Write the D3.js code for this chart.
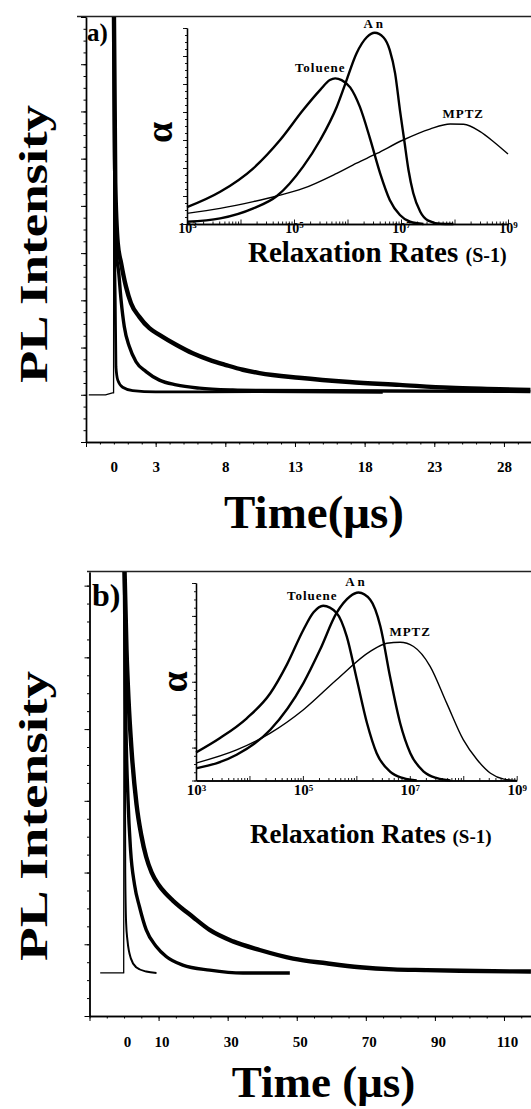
<!DOCTYPE html>
<html>
<head>
<meta charset="utf-8">
<script src="https://cdn.jsdelivr.net/npm/d3@7"></script>
<style>
  html, body { margin: 0; padding: 0; background: #fff; }
  svg text { font-family: "Liberation Serif", "Times New Roman", serif; font-weight: bold; fill: #000; }
</style>
</head>
<body>
<div id="chart"></div>
<script>
// PL decay traces with relaxation-rate distributions (insets), two panels
// main traces: [time (us), intensity (arb.)], insets: [log10 rate (s-1), alpha]

// ---- panel a, main decays
const aPulse = [[-1.8, 1.0], [-0.6, 1.0], [-0.1, 1.04], [-0.02, 1.04], [0, 9.3]];
const aFast = [[0, 9.3], [0.05, 4.55], [0.1, 3.0], [0.15, 1.59], [0.28, 1.31], [0.63, 1.16],
  [1.35, 1.09], [3, 1.06], [10.4, 1.065], [19.3, 1.05]];
const aMid = [[0, 9.3], [0.05, 6.0], [0.16, 4.07], [0.35, 3.58], [0.52, 3.0], [0.75, 2.44],
  [1.11, 2.02], [1.59, 1.70], [2.31, 1.49], [3.27, 1.31], [4.47, 1.21], [6.14, 1.14],
  [8.53, 1.10], [10.45, 1.09], [20, 1.08], [29.9, 1.07]];
const aSlow = [[0, 9.3], [0.1, 5.5], [0.28, 4.21], [0.52, 3.79], [0.87, 3.29], [1.23, 2.94],
  [1.83, 2.65], [2.55, 2.41], [3.27, 2.27], [4.47, 2.06], [5.66, 1.88], [6.86, 1.74],
  [8.05, 1.63], [9.25, 1.53], [10.45, 1.46], [13.3, 1.36], [16.9, 1.27], [20.5, 1.21],
  [24.1, 1.15], [27.7, 1.12], [29.9, 1.10]];

// ---- panel a, inset
const aToluene = [[3.0, 0.60], [3.62, 1.15], [4.24, 1.99], [4.74, 3.00], [5.17, 4.07], [5.49, 4.79],
  [5.67, 5.14], [5.77, 5.20], [5.89, 5.14], [6.05, 4.88], [6.23, 4.19], [6.42, 3.06],
  [6.61, 1.81], [6.79, 0.86], [6.98, 0.32], [7.17, 0.08], [7.42, 0.0]];
const aAn = [[3.0, 0.08], [3.62, 0.20], [4.24, 0.56], [4.68, 1.00], [5.17, 2.05], [5.49, 3.00],
  [5.80, 4.19], [5.95, 4.96], [6.17, 6.10], [6.36, 6.67], [6.51, 6.83], [6.67, 6.67],
  [6.79, 6.21], [6.89, 5.38], [6.98, 4.07], [7.06, 3.00], [7.14, 1.93], [7.23, 1.10],
  [7.36, 0.44], [7.51, 0.12], [7.73, 0.01], [7.98, 0.0]];
const aMPTZ = [[3.0, 0.38], [3.62, 0.56], [4.24, 0.80], [4.68, 1.00], [5.17, 1.27], [5.80, 1.81],
  [6.17, 2.17], [6.55, 2.52], [7.04, 3.00], [7.54, 3.39], [7.92, 3.57], [8.17, 3.56],
  [8.48, 3.30], [8.73, 2.94], [9.0, 2.50]];

// ---- panel b, main decays
const bPulse = [[-6.9, 0.6], [-0.1, 0.6], [0, 6.5]];
const bFast = [[0, 6.5], [0.25, 4.0], [0.35, 2.0], [0.6, 1.3], [1.0, 1.05], [2.0, 0.8],
  [3.5, 0.68], [6.4, 0.62], [9.4, 0.6]];
const bMid = [[0, 6.5], [0.43, 4.41], [1.16, 3.01], [1.88, 2.32], [3.04, 1.83], [4.49, 1.52],
  [6.43, 1.20], [9.33, 0.97], [12.2, 0.83], [17.0, 0.71], [24.8, 0.64], [34.4, 0.60], [48, 0.60]];
const bSlow = [[0, 6.5], [0.72, 5.10], [1.30, 4.41], [2.17, 3.71], [3.62, 2.95], [5.0, 2.52],
  [6.4, 2.22], [8.0, 2.0], [10.0, 1.83], [12.0, 1.71], [14.14, 1.61], [19.94, 1.38],
  [24.78, 1.20], [31.54, 1.04], [39.28, 0.92], [48.93, 0.80], [58.6, 0.735], [68.3, 0.68],
  [77.9, 0.65], [87.6, 0.64], [97.2, 0.63], [117.8, 0.62]];

// ---- panel b, inset
const bToluene = [[3.0, 0.85], [3.45, 1.29], [3.95, 1.89], [4.39, 2.65], [4.70, 3.52], [5.01, 4.58],
  [5.20, 5.11], [5.38, 5.31], [5.63, 5.09], [5.82, 4.38], [6.01, 3.06], [6.20, 1.74],
  [6.38, 0.83], [6.63, 0.27], [6.88, 0.07], [7.13, 0.0]];
const bAn = [[3.0, 0.37], [3.76, 0.78], [4.39, 1.54], [5.01, 2.96], [5.32, 3.97], [5.63, 5.09],
  [5.88, 5.59], [6.04, 5.71], [6.26, 5.49], [6.45, 4.68], [6.63, 3.16], [6.82, 1.74],
  [7.01, 0.83], [7.26, 0.27], [7.51, 0.07], [7.76, 0.0]];
const bMPTZ = [[3.0, 0.53], [3.76, 0.93], [4.39, 1.44], [5.01, 2.15], [5.63, 3.06], [6.26, 3.92],
  [6.57, 4.17], [6.82, 4.20], [7.07, 4.07], [7.38, 3.47], [7.69, 2.35], [8.0, 1.24],
  [8.26, 0.63], [8.51, 0.22], [8.76, 0.04], [9.0, 0.0]];

// ---- ticks
const aTimeMajor = [-2, 3, 8, 13, 18, 23, 28];
const aTimeLabels = [0, 3, 8, 13, 18, 23, 28];
const bTimeMajor = [-10, 10, 30, 50, 70, 90, 110];
const bTimeLabels = [0, 10, 30, 50, 70, 90, 110];
const rateLabels = [1e3, 1e5, 1e7, 1e9];

const svg = d3.select("#chart").append("svg")
  .attr("width", 531).attr("height", 1109);

const panels = [
  {
    id: "a", tag: "a)", tagSize: 25, tagX: 87, tagY: 41,
    left: 86, right: 531.8, top: 17, bottom: 442, frameX: 77,
    tDomain: [-2, 30], vDomain: [0, 9], tMajor: aTimeMajor, tMinor: d3.range(-2, 30, 1),
    tLabels: aTimeLabels, labelBase: 471.7, labelDx: 0,
    traces: [[aPulse, 1.3], [aFast, 2.8], [aMid, 3.4], [aSlow, 4.4]],
    xTitle: "Time(μs)", xTitleX: 314, xTitleY: 528, xTitleSize: 47,
    yTitleX: 46.6, yTitleY: 244, yTitleLen: 278,
    inset: {
      left: 187, right: 508, top: 28, bottom: 224, vMax: 7, labelBase: 232.5, labelSize: 14,
      curves: [[aToluene, 2.4, "Toluene", -15, -6], [aAn, 2.4, "An", 0, -5], [aMPTZ, 1.4, "MPTZ", 13, -6]],
      titleX: 248, titleY: 261.7, titleSize: 29, alphaX: 171.7, alphaY: 132.5
    }
  },
  {
    id: "b", tag: "b)", tagSize: 32, tagX: 92, tagY: 606,
    left: 89.5, right: 531.6, top: 572, bottom: 1016, frameX: 87,
    tDomain: [-10, 118], vDomain: [0, 6.19], tMajor: bTimeMajor, tMinor: d3.range(-10, 118, 5),
    tLabels: bTimeLabels, labelBase: 1046.7, labelDx: 3,
    traces: [[bPulse, 1.3], [bFast, 2.0], [bMid, 3.4], [bSlow, 4.4]],
    xTitle: "Time (μs)", xTitleX: 323.5, xTitleY: 1097, xTitleSize: 45,
    yTitleX: 46.6, yTitleY: 816, yTitleLen: 290,
    inset: {
      left: 196, right: 516.7, top: 583, bottom: 780.5, vMax: 6, labelBase: 795, labelSize: 15,
      curves: [[bToluene, 2.4, "Toluene", -11, -6], [bAn, 2.4, "An", -2, -6.5], [bMPTZ, 1.4, "MPTZ", 10, -6]],
      titleX: 250, titleY: 843.3, titleSize: 27, alphaX: 186.5, alphaY: 682
    }
  }
];

panels.forEach(drawPanel);

function drawPanel(p) {
  const g = svg.append("g").attr("class", "panel-" + p.id);

  const x = d3.scaleLinear().domain(p.tDomain).range([p.left, p.right]);
  const y = d3.scaleLinear().domain(p.vDomain).range([p.bottom, p.top]);

  // clip for the traces
  g.append("clipPath").attr("id", "clip-" + p.id)
    .append("rect")
    .attr("x", p.left).attr("y", p.top)
    .attr("width", p.right - p.left).attr("height", p.bottom - p.top);

  // top frame line
  g.append("line")
    .attr("x1", p.frameX).attr("x2", 531)
    .attr("y1", p.top - 0.5).attr("y2", p.top - 0.5)
    .attr("stroke", "#222").attr("stroke-width", 1.6);

  // y axis: major + minor ticks, no labels
  const yMajor = d3.range(0, p.vDomain[1] + 0.001, 1);
  const yMinor = d3.range(0, p.vDomain[1] + 0.001, 0.25);
  g.append("g").attr("transform", `translate(${p.left},0)`)
    .call(d3.axisLeft(y).tickValues(yMinor).tickSize(2.5).tickSizeOuter(0).tickFormat(""));
  g.append("g").attr("transform", `translate(${p.left},0)`)
    .call(d3.axisLeft(y).tickValues(yMajor).tickSize(5).tickSizeOuter(0).tickFormat(""));

  // x axis
  g.append("g").attr("transform", `translate(0,${p.bottom})`)
    .call(d3.axisBottom(x).tickValues(p.tMinor).tickSize(2.5).tickSizeOuter(0).tickFormat(""));
  g.append("g").attr("transform", `translate(0,${p.bottom})`)
    .call(d3.axisBottom(x).tickValues(p.tMajor).tickSize(5).tickSizeOuter(0).tickFormat(""));
  g.append("g").attr("transform", `translate(${p.labelDx},${p.bottom})`)
    .call(d3.axisBottom(x).tickValues(p.tLabels).tickSize(0).tickPadding(p.labelBase - p.bottom - 10.6))
    .call(s => s.select(".domain").remove())
    .selectAll("text")
    .style("font-size", "15px");

  g.selectAll(".domain").attr("stroke", "#000").attr("stroke-width", 1.4);
  g.selectAll(".tick line").attr("stroke", "#000").attr("stroke-width", 1);

  // decay traces (first one is the excitation edge, drawn straight)
  const smooth = d3.line().x(d => x(d[0])).y(d => y(d[1])).curve(d3.curveMonotoneX);
  const straight = d3.line().x(d => x(d[0])).y(d => y(d[1]));
  const traces = g.append("g").attr("clip-path", `url(#clip-${p.id})`);
  p.traces.forEach(([data, w], i) => {
    traces.append("path")
      .datum(data)
      .attr("fill", "none")
      .attr("stroke", "#000")
      .attr("stroke-width", w)
      .attr("stroke-linejoin", "round")
      .attr("d", i === 0 ? straight : smooth);
  });

  // panel tag
  g.append("text")
    .attr("x", p.tagX).attr("y", p.tagY)
    .style("font-size", p.tagSize + "px")
    .text(p.tag);

  // axis titles
  g.append("text")
    .attr("x", p.xTitleX).attr("y", p.xTitleY)
    .attr("text-anchor", "middle")
    .style("font-size", p.xTitleSize + "px")
    .text(p.xTitle);

  g.append("text")
    .attr("transform", `translate(${p.yTitleX},${p.yTitleY}) rotate(-90)`)
    .attr("text-anchor", "middle")
    .attr("textLength", p.yTitleLen)
    .attr("lengthAdjust", "spacingAndGlyphs")
    .style("font-size", "40px")
    .text("PL Intensity");

  drawInset(g, p.inset);
}

function drawInset(g, s) {
  const x = d3.scaleLog().domain([1e3, 1e9]).range([s.left, s.right]);
  const y = d3.scaleLinear().domain([0, s.vMax]).range([s.bottom, s.top]);

  const ig = g.append("g").attr("class", "inset");

  const yMajor = d3.range(0, s.vMax + 0.001, 1);
  const yMinor = d3.range(0, s.vMax + 0.001, 0.25);
  ig.append("g").attr("transform", `translate(${s.left},0)`)
    .call(d3.axisLeft(y).tickValues(yMinor).tickSize(2).tickSizeOuter(0).tickFormat(""));
  ig.append("g").attr("transform", `translate(${s.left},0)`)
    .call(d3.axisLeft(y).tickValues(yMajor).tickSize(4).tickSizeOuter(0).tickFormat(""));

  // log ticks pointing inward
  const decades = d3.range(3, 10).map(k => Math.pow(10, k));
  const minors = [];
  d3.range(3, 9).forEach(k => d3.range(2, 10).forEach(m => minors.push(m * Math.pow(10, k))));
  ig.append("g").attr("transform", `translate(0,${s.bottom})`)
    .call(d3.axisBottom(x).tickValues(minors).tickSize(-2.5).tickSizeOuter(0).tickFormat(""));
  ig.append("g").attr("transform", `translate(0,${s.bottom})`)
    .call(d3.axisBottom(x).tickValues(decades).tickSize(-4.5).tickSizeOuter(0).tickFormat(""));

  const lab = ig.append("g").attr("transform", `translate(0,${s.bottom})`)
    .call(d3.axisBottom(x).tickValues(rateLabels).tickSize(0)
      .tickPadding(s.labelBase - s.bottom - 0.71 * s.labelSize).tickFormat(() => "10"))
    .call(a => a.select(".domain").remove());
  lab.selectAll("text")
    .style("font-size", s.labelSize + "px")
    .append("tspan")
    .attr("dy", "-0.5em")
    .style("font-size", "9px")
    .text(d => Math.round(Math.log10(d)));

  ig.selectAll(".domain").attr("stroke", "#000").attr("stroke-width", 1.3);
  ig.selectAll(".tick line").attr("stroke", "#000").attr("stroke-width", 0.9);

  const line = d3.line()
    .x(d => x(Math.pow(10, d[0])))
    .y(d => y(d[1]))
    .curve(d3.curveMonotoneX);

  s.curves.forEach(([data, w, name, dx, dy]) => {
    ig.append("path")
      .datum(data)
      .attr("fill", "none")
      .attr("stroke", "#000")
      .attr("stroke-width", w)
      .attr("d", line);

    // curve name sits above its peak
    const peak = d3.greatest(data, d => d[1]);
    ig.append("text")
      .attr("x", x(Math.pow(10, peak[0])) + dx)
      .attr("y", y(peak[1]) + dy)
      .attr("text-anchor", "middle")
      .style("font-size", "13px")
      .style("letter-spacing", name === "An" ? "3px" : "1px")
      .text(name);
  });

  // inset titles
  const t = ig.append("text")
    .attr("x", s.titleX).attr("y", s.titleY)
    .style("font-size", s.titleSize + "px")
    .text("Relaxation Rates ");
  t.append("tspan")
    .style("font-size", Math.round(s.titleSize * 0.69) + "px")
    .text("(S-1)");

  ig.append("text")
    .attr("transform", `translate(${s.alphaX},${s.alphaY}) rotate(-90)`)
    .attr("text-anchor", "middle")
    .style("font-size", "38px")
    .text("α");
}
</script>
</body>
</html>
